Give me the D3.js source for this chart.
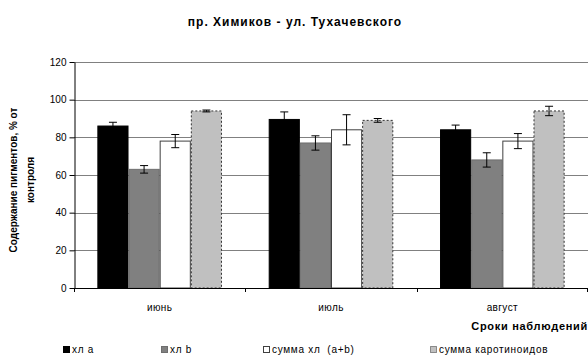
<!DOCTYPE html>
<html>
<head>
<meta charset="utf-8">
<script src="https://cdn.jsdelivr.net/npm/d3@7"></script>
<style>
  html, body { margin: 0; padding: 0; background: #fff; }
  svg { display: block; font-family: "Liberation Sans", Arial, sans-serif; }
  text { white-space: pre; }
</style>
</head>
<body>
<svg id="chart" width="588" height="358"></svg>
<script>
// Observation periods
const categories = ["июнь", "июль", "август"];
// Series names
const seriesNames = ["хл a", "хл b", "сумма хл  (a+b)", "сумма каротиноидов"];
// Pigment content, % of control
const chlA = [86, 89.5, 84];
const chlB = [63, 77, 68];
const chlSum = [78, 84, 78];
const carotenoids = [94, 89, 94];
// Error-bar half-widths
const chlAErr = [2, 4, 2.5];
const chlBErr = [2, 3.8, 3.8];
const chlSumErr = [3.5, 8, 4];
const carotenoidsErr = [0.5, 1, 2.5];
// Y axis ticks
const yTicks = [0, 20, 40, 60, 80, 100, 120];

const seriesValues = [chlA, chlB, chlSum, carotenoids];
const seriesErrors = [chlAErr, chlBErr, chlSumErr, carotenoidsErr];
const seriesStyle = [
  { fill: "#000000", stroke: "#000000", dash: null },
  { fill: "#808080", stroke: "#6e6e6e", dash: null },
  { fill: "#ffffff", stroke: "#404040", dash: null },
  { fill: "#c0c0c0", stroke: "#333333", dash: "2,2" }
];

const svg = d3.select("#chart");
const plotLeft = 74, plotRight = 588, plotTop = 62, plotBottom = 288;

const y = d3.scaleLinear().domain([0, 120]).range([plotBottom, plotTop]);
const x0 = d3.scaleBand().domain(categories).range([plotLeft, plotRight]).paddingInner(0).paddingOuter(0);
// 150% gap between groups: bar width = band / 5.5
const barW = x0.bandwidth() / 5.5;
const x1 = d3.scaleBand().domain(d3.range(4)).range([0.75 * barW, 4.75 * barW]).padding(0);

// Title
svg.append("text")
  .attr("x", 295).attr("y", 26)
  .attr("text-anchor", "middle")
  .attr("font-size", 12).attr("font-weight", "bold")
  .attr("letter-spacing", 1)
  .text("пр. Химиков - ул. Тухачевского");

// Gridlines
svg.append("g")
  .selectAll("line")
  .data(yTicks.filter(d => d > 0))
  .join("line")
  .attr("x1", plotLeft).attr("x2", plotRight)
  .attr("y1", d => Math.round(y(d)) + 0.5).attr("y2", d => Math.round(y(d)) + 0.5)
  .attr("stroke", "#808080").attr("stroke-width", 1);

// Y axis
const yAxis = svg.append("g")
  .attr("transform", `translate(${plotLeft + 0.5},0)`)
  .call(d3.axisLeft(y).tickValues(yTicks).tickSize(5).tickSizeOuter(0));
yAxis.select(".domain").attr("stroke", "#000");
yAxis.selectAll(".tick line").attr("stroke", "#000");
yAxis.selectAll(".tick text")
  .attr("font-size", 10).attr("font-family", "Liberation Sans, Arial, sans-serif")
  .attr("fill", "#000").attr("x", -8);

// Bars
const groups = svg.append("g")
  .selectAll("g")
  .data(categories)
  .join("g")
  .attr("transform", d => `translate(${x0(d)},0)`);

groups.each(function(cat, ci) {
  const g = d3.select(this);
  seriesValues.forEach((vals, si) => {
    const st = seriesStyle[si];
    const v = vals[ci];
    const bx = x1(si);
    g.append("rect")
      .attr("x", bx + 0.5).attr("y", y(v))
      .attr("width", x1.bandwidth() - 1).attr("height", y(0) - y(v))
      .attr("fill", st.fill).attr("stroke", st.stroke).attr("stroke-width", 1)
      .attr("stroke-dasharray", st.dash);
    // Error bar
    const e = seriesErrors[si][ci];
    const cx = bx + x1.bandwidth() / 2;
    const eb = g.append("g").attr("stroke", "#000").attr("stroke-width", 1);
    eb.append("line").attr("x1", cx).attr("x2", cx).attr("y1", y(v + e)).attr("y2", y(v - e));
    eb.append("line").attr("x1", cx - 4).attr("x2", cx + 4).attr("y1", y(v + e)).attr("y2", y(v + e));
    eb.append("line").attr("x1", cx - 4).attr("x2", cx + 4).attr("y1", y(v - e)).attr("y2", y(v - e));
  });
});

// X axis
svg.append("line")
  .attr("x1", plotLeft).attr("x2", plotRight)
  .attr("y1", plotBottom + 0.5).attr("y2", plotBottom + 0.5)
  .attr("stroke", "#000");
const bounds = categories.map(c => x0(c)).concat([plotRight - 1]);
svg.append("g").selectAll("line")
  .data(bounds)
  .join("line")
  .attr("x1", d => Math.round(d) + 0.5).attr("x2", d => Math.round(d) + 0.5)
  .attr("y1", plotBottom).attr("y2", plotBottom + 4)
  .attr("stroke", "#000");
svg.append("g").selectAll("text")
  .data(categories)
  .join("text")
  .attr("x", d => x0(d) + x0.bandwidth() / 2)
  .attr("y", 311)
  .attr("text-anchor", "middle")
  .attr("font-size", 10)
  .attr("letter-spacing", 0.4)
  .text(d => d);

// Axis titles
svg.append("text")
  .attr("x", 588).attr("y", 330)
  .attr("text-anchor", "end")
  .attr("font-size", 11).attr("font-weight", "bold")
  .attr("letter-spacing", 0.7)
  .text("Сроки наблюдений");

const yTitle = svg.append("text")
  .attr("transform", "translate(0,180) rotate(-90)")
  .attr("text-anchor", "middle")
  .attr("font-size", 10).attr("font-weight", "bold");
yTitle.append("tspan").attr("x", 0).attr("y", 17).text("Содержание пигментов, % от");
yTitle.append("tspan").attr("x", 0).attr("y", 34).text("контроля");

// Legend
const legendX = [63, 161, 263, 430];
const legend = svg.append("g").selectAll("g")
  .data(seriesNames)
  .join("g")
  .attr("transform", (d, i) => `translate(${legendX[i]},346)`);
legend.append("rect")
  .attr("x", 0.5).attr("y", 0.5).attr("width", 6).attr("height", 6)
  .attr("fill", (d, i) => seriesStyle[i].fill)
  .attr("stroke", (d, i) => seriesStyle[i].stroke)
  .attr("stroke-dasharray", (d, i) => seriesStyle[i].dash ? "1,1" : null);
legend.append("text")
  .attr("x", 9).attr("y", 7)
  .attr("font-size", 10)
  .attr("letter-spacing", 0.7)
  .text(d => d);
</script>
</body>
</html>
